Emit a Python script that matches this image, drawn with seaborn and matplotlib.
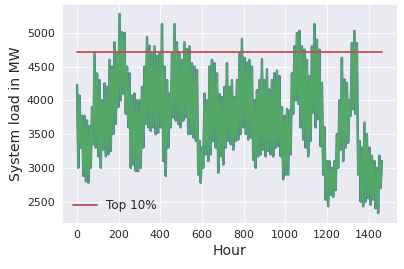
import numpy as np
import seaborn as sns
import matplotlib
matplotlib.use("Agg")
import matplotlib.pyplot as plt

# system load: highs at hours 0, 12, 24, ...
# and lows at hours 6, 18, 30, ...
step_hours = 6
load_high = [4230, 4070, 3770, 3770, 3700, 3620, 3900, 4710, 4400, 4300,
             4000, 4250, 4200, 4600, 4500, 4860, 4700, 5280, 5010, 5000,
             4500, 4400, 4070, 4100, 4000, 4000, 4200, 4500, 4940, 4810,
             4700, 4800, 4660, 4700, 5130, 4500, 4300, 4100, 4700, 5130,
             4860, 4700, 4600, 4860, 4760, 4800, 4550, 4500, 4450, 3400,
             3300, 4100, 4000, 4500, 4600, 4550, 4400, 4090, 4050, 4200,
             4550, 4200, 4300, 4050, 4300, 4700, 4910, 4630, 4560, 4600,
             4500, 4000, 4150, 4300, 4610, 4300, 4460, 4160, 4300, 4400,
             4440, 4360, 3900, 3770, 3870, 3850, 4400, 4800, 5000, 5030,
             4800, 4750, 4600, 4360, 4800, 5130, 4900, 4750, 4260, 3600,
             3100, 3100, 3000, 3100, 3500, 4000, 4630, 4310, 4260, 4000,
             4850, 5030, 4850, 3400, 3300, 3670, 3500, 3300, 3180, 3100,
             3000, 3180, 3100]
load_low = [3000, 3300, 2880, 2800, 2780, 3000, 3350, 3300, 3170, 3000,
            3270, 3170, 3200, 3250, 3500, 3650, 3900, 4000, 4100, 3800,
            3600, 3000, 3050, 2950, 2950, 3000, 3300, 3650, 3600, 3550,
            3600, 3500, 3520, 3600, 3100, 2880, 3300, 3600, 3750, 3700,
            3650, 3600, 3700, 3750, 3500, 3500, 3450, 3400, 2900, 2780,
            3000, 3200, 3100, 3200, 3400, 3300, 2930, 3170, 3050, 3300,
            3400, 3350, 3270, 3400, 3420, 3500, 3600, 3500, 3420, 3450,
            3120, 3000, 3170, 3200, 3270, 3170, 3250, 3200, 3170, 3300,
            3320, 3170, 2830, 2900, 2900, 3200, 3800, 4000, 3950, 3600,
            3420, 3300, 3170, 3400, 3820, 3600, 3720, 3320, 2900, 2530,
            2430, 2600, 2570, 2670, 3000, 3270, 3100, 3300, 3370, 3770,
            3870, 3800, 2900, 2500, 2430, 2500, 2550, 2450, 2530, 2400,
            2330, 2700]
top10 = 4710

# put the highs and lows back in time order
load_mw = []
for hi, lo in zip(load_high, load_low):
    load_mw += [hi, lo]
load_mw.append(load_high[-1])
load_mw = np.array(load_mw)
hours = np.arange(len(load_mw)) * step_hours

sns.set_style("darkgrid")
pal = sns.color_palette("deep")

fig = plt.figure(figsize=(404 / 72, 269 / 72), dpi=72)
ax = fig.add_axes([0.153, 0.171, 0.83, 0.814])

ax.plot(hours, load_mw, color=pal[0], lw=2.4)
ax.plot(hours, load_mw, color=pal[2], lw=1.8)
ax.plot(hours[[0, -1]], [top10, top10], color=pal[3], lw=1.8, label="Top 10%")

ax.set_xlabel("Hour", fontsize=14)
ax.set_ylabel("System load in MW", fontsize=14)
ax.tick_params(labelsize=11)
ax.set_xticks([0, 200, 400, 600, 800, 1000, 1200, 1400])
ax.legend(loc="lower left", fontsize=12, frameon=False)

fig.savefig("out.png", dpi=72)
